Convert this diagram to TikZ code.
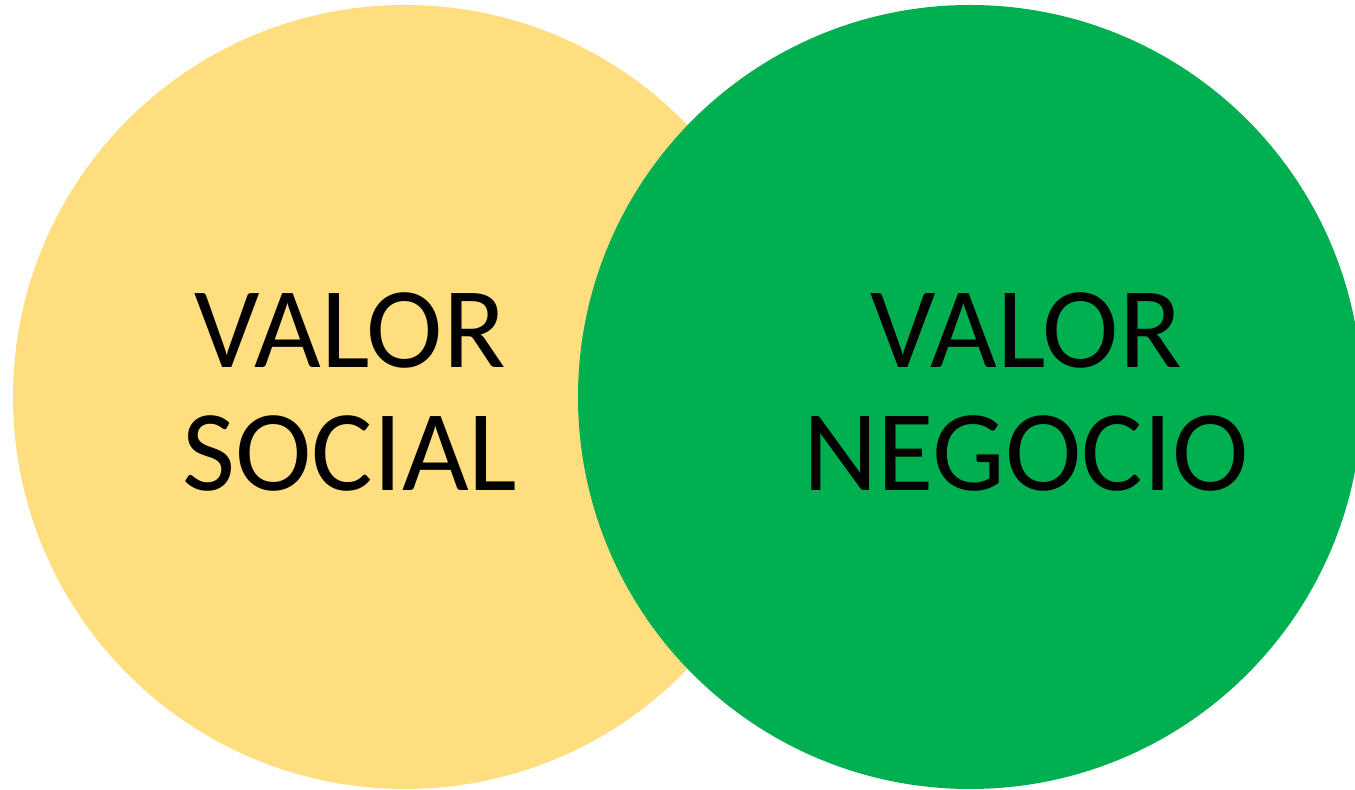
\documentclass[tikz,border=0pt]{standalone}
\usepackage{fontspec}
\setmainfont{Carlito}
\usepackage{xcolor}
\definecolor{valorYellow}{RGB}{255, 222, 128}
\definecolor{valorGreen}{RGB}{0, 176, 80}
\tikzset{
  valorcircle/.style={circle, inner sep=0pt, draw=none, minimum size=19.6cm},
  valorlabel/.style={align=center, text=black, font=\fontsize{82}{88}\selectfont}
}
\begin{document}
\begin{tikzpicture}
            \useasboundingbox (0,0) rectangle (33.875,19.75);
            % Social
            \node[valorcircle, fill=valorYellow] (social) at (10.125,9.825) {};
            
            % Negocio
            \node[valorcircle, fill=valorGreen] (negocio) at (24.25,9.825) {};
            
            % Labels
            \node[valorlabel] (socialtext) at (8.75,9.95) {VALOR\\SOCIAL};
            \node[valorlabel] (negociotext) at (25.65,9.95) {VALOR\\NEGOCIO};
        \end{tikzpicture}
\end{document}
